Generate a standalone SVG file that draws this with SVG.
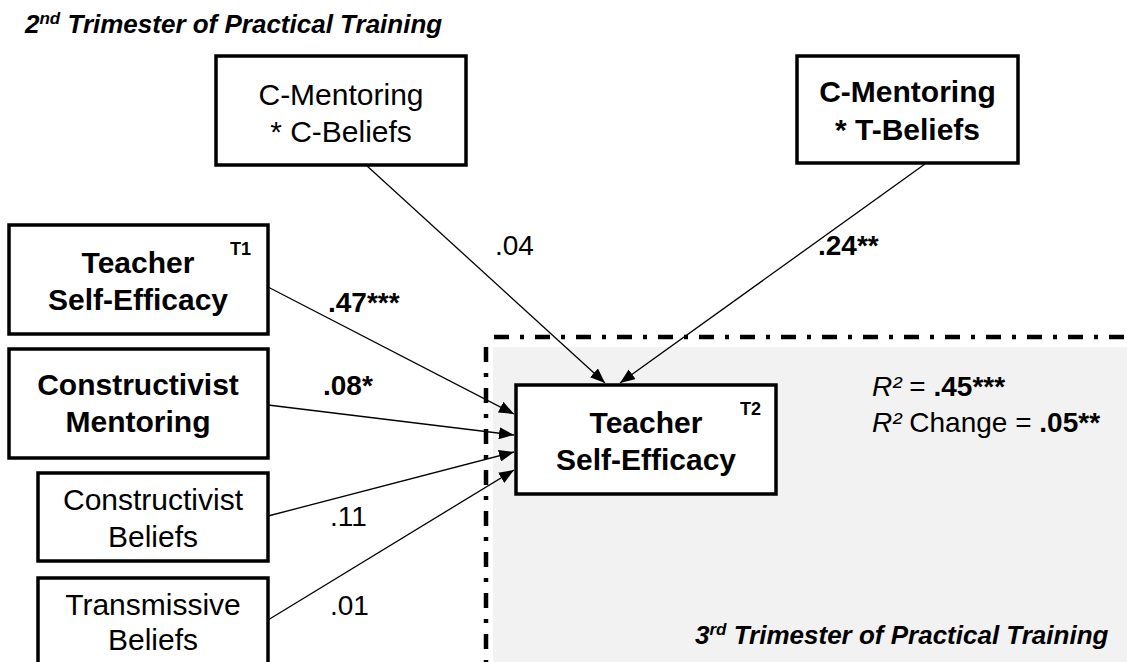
<svg xmlns="http://www.w3.org/2000/svg" width="1127" height="662" viewBox="0 0 1127 662">
<style>
text{font-family:"Liberation Sans",Arial,sans-serif;fill:#000}
.box{fill:#fff;stroke:#000;stroke-width:3.5}
.bt{font-size:30px;font-weight:bold;text-anchor:middle}
.rt{font-size:30px;text-anchor:middle}
.tm{font-size:18px;font-weight:bold}
.lab{font-size:28px}
.labb{font-size:28px;font-weight:bold}
.title{font-size:26px;font-weight:bold;font-style:italic}
.sup{font-size:17px}
.edge{stroke:#000;stroke-width:1.3;fill:none;marker-end:url(#ah)}
.dd{stroke:#000;stroke-width:4.5;fill:none;stroke-dasharray:15 11 4 11}
.r2{font-size:28px}
</style>
<defs>
<marker id="ah" markerUnits="userSpaceOnUse" markerWidth="16" markerHeight="12" refX="15" refY="6" orient="auto">
<path d="M0,0 L15,6 L0,12 Z" fill="#000"/>
</marker>
</defs>
<g id="region3">
<rect x="493" y="347" width="634" height="315" fill="#f2f2f2"/>
<line class="dd" x1="494" y1="337" x2="1127" y2="337"/>
<line class="dd" x1="486" y1="347" x2="486" y2="662"/>
</g>
<text class="title" x="25" y="33">2<tspan class="sup" dy="-9">nd</tspan><tspan dy="9"> Trimester of Practical Training</tspan></text>
<text class="title" x="695" y="644">3<tspan class="sup" dy="-9">rd</tspan><tspan dy="9"> Trimester of Practical Training</tspan></text>
<g id="connectors">
<line class="edge" x1="366" y1="165" x2="605" y2="383"/>
<line class="edge" x1="925" y1="164" x2="620" y2="383"/>
<line class="edge" x1="268" y1="287" x2="514" y2="414"/>
<line class="edge" x1="268" y1="405" x2="514" y2="435"/>
<line class="edge" x1="268" y1="516" x2="514" y2="452"/>
<line class="edge" x1="268" y1="620" x2="514" y2="470"/>
<text class="lab" x="495" y="255">.04</text>
<text class="labb" x="818" y="255">.24**</text>
<text class="labb" x="328" y="312">.47***</text>
<text class="labb" x="323" y="395">.08*</text>
<text class="lab" x="330" y="526">.11</text>
<text class="lab" x="330" y="615">.01</text>
</g>
<g id="n_cmcb">
<rect class="box" x="216" y="56" width="250" height="109"/>
<text class="rt" x="341" y="105">C-Mentoring</text>
<text class="rt" x="341" y="142">* C-Beliefs</text>
</g>
<g id="n_cmtb">
<rect class="box" x="797" y="56" width="221" height="107"/>
<text class="bt" x="907.5" y="102">C-Mentoring</text>
<text class="bt" x="907.5" y="140">* T-Beliefs</text>
</g>
<g id="n_tse1">
<rect class="box" x="9" y="225" width="259" height="109"/>
<text class="bt" x="138" y="273">Teacher</text>
<text class="bt" x="138" y="310">Self-Efficacy</text>
<text class="tm" x="230" y="255">T1</text>
</g>
<g id="n_cm">
<rect class="box" x="9" y="349" width="259" height="109"/>
<text class="bt" x="138" y="395">Constructivist</text>
<text class="bt" x="138" y="432">Mentoring</text>
</g>
<g id="n_cb">
<rect class="box" x="38" y="473" width="230" height="88"/>
<text class="rt" x="153" y="510">Constructivist</text>
<text class="rt" x="153" y="547">Beliefs</text>
</g>
<g id="n_tb">
<rect class="box" x="38" y="578" width="230" height="92"/>
<text class="rt" x="153" y="615">Transmissive</text>
<text class="rt" x="153" y="650">Beliefs</text>
</g>
<g id="n_tse2">
<rect class="box" x="516" y="385" width="260" height="109"/>
<text class="bt" x="646" y="433">Teacher</text>
<text class="bt" x="646" y="470">Self-Efficacy</text>
<text class="tm" x="740" y="415">T2</text>
</g>
<g id="r2">
<text class="r2" x="872" y="396"><tspan font-style="italic">R²</tspan> = <tspan font-weight="bold">.45***</tspan></text>
<text class="r2" x="872" y="432"><tspan font-style="italic">R²</tspan> Change = <tspan font-weight="bold">.05**</tspan></text>
</g>
</svg>
